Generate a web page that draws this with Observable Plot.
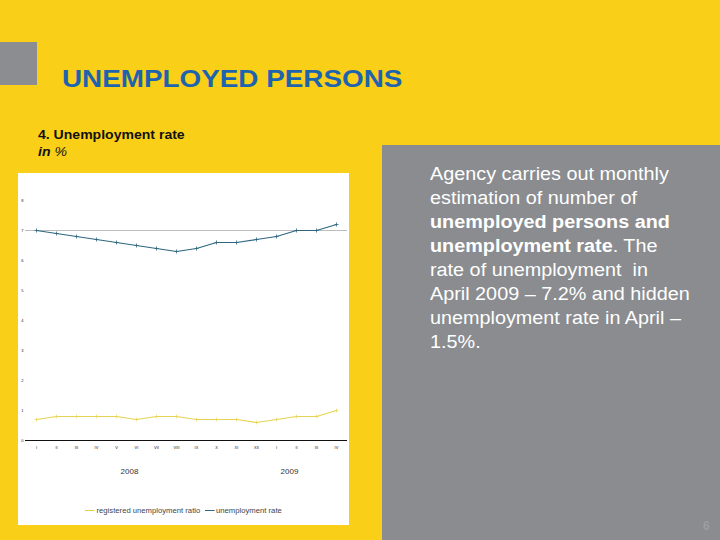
<!DOCTYPE html>
<html>
<head>
<meta charset="utf-8">
<script src="https://cdn.jsdelivr.net/npm/d3@7"></script>
<script src="https://cdn.jsdelivr.net/npm/@observablehq/plot@0.6"></script>
<style>
  html, body { margin: 0; padding: 0; }
  body { width: 720px; height: 540px; background: #F9CF18; position: relative; overflow: hidden; font-family: "Liberation Sans", Arial, sans-serif; }
  .abs { position: absolute; }
  #sq { left: 0; top: 42px; width: 37px; height: 43px; background: #8B8D90; }
  #panel { left: 382px; top: 145px; width: 338px; height: 395px; background: #8A8C8F; }
  #title { left: 62px; top: 64px; font-size: 24px; font-weight: bold; color: #1E63AE; transform: scaleX(1.16); transform-origin: left top; white-space: nowrap; line-height: 30px; }
  #sub1 { left: 38px; top: 127px; font-size: 13px; font-weight: bold; color: #111; transform: scaleX(1.08); transform-origin: left top; white-space: nowrap; line-height: 16px; }
  #sub2 { left: 38px; top: 144px; font-size: 13px; color: #111; transform: scaleX(1.08); transform-origin: left top; white-space: nowrap; line-height: 16px; }
  #box { left: 18px; top: 173px; width: 331px; height: 352px; background: #fff; }
  #chart { left: 18px; top: 173px; }
  #legend { left: 85px; top: 505px; font-size: 8px; color: #444; white-space: nowrap; line-height: 12px; transform: scaleX(0.96); transform-origin: left top; }
  .sw { display: inline-block; width: 10px; height: 0; border-top: 1.3px solid; vertical-align: middle; margin-right: 2px; }
  #text { left: 430px; top: 162px; color: #fff; font-size: 18px; line-height: 24px; transform: scaleX(1.1); transform-origin: left top; white-space: nowrap; }
  #pg { left: 703px; top: 519px; color: #9C9EA1; font-size: 12px; font-weight: bold; }
</style>
</head>
<body>
<div id="sq" class="abs"></div>
<div id="panel" class="abs"></div>
<div id="title" class="abs">UNEMPLOYED PERSONS</div>
<div id="sub1" class="abs">4. Unemployment rate</div>
<div id="sub2" class="abs"><b><i>in</i></b> <i>%</i></div>
<div id="box" class="abs"></div>
<div id="chart" class="abs"></div>
<div id="legend" class="abs"><span class="sw" style="border-color:#E3CF45"></span>registered unemployment ratio&nbsp;&nbsp;<span class="sw" style="border-color:#2F6680"></span>unemployment rate</div>
<div id="text" class="abs">
<div>Agency carries out monthly</div>
<div>estimation of number of</div>
<div><b>unemployed persons and</b></div>
<div><b>unemployment rate</b>. The</div>
<div>rate of unemployment&nbsp; in</div>
<div>April 2009 – 7.2% and hidden</div>
<div>unemployment rate in April –</div>
<div>1.5%.</div>
</div>
<div id="pg" class="abs">6</div>
<script>
const periods = ["2008-01","2008-02","2008-03","2008-04","2008-05","2008-06","2008-07","2008-08","2008-09","2008-10","2008-11","2008-12","2009-01","2009-02","2009-03","2009-04"];
const monthLabels = ["I","II","III","IV","V","VI","VII","VIII","IX","X","XI","XII","I","II","III","IV"];
const unemploymentRate = [7.0,6.9,6.8,6.7,6.6,6.5,6.4,6.3,6.4,6.6,6.6,6.7,6.8,7.0,7.0,7.2];
const registeredRatio = [0.7,0.8,0.8,0.8,0.8,0.7,0.8,0.8,0.7,0.7,0.7,0.6,0.7,0.8,0.8,1.0];
const yearLabels = ["2008","2009"];
const yearAt = ["2008-06","2009-02"];
const referenceLevel = [7];
const yTicks = [0,1,2,3,4,5,6,7,8];

const rows = periods.map((p, i) => ({period: p, month: monthLabels[i], rate: unemploymentRate[i], reg: registeredRatio[i]}));
const years = yearLabels.map((y, i) => ({period: yearAt[i], label: y}));
const fmt = new Map(periods.map((p, i) => [p, monthLabels[i]]));

const chart = Plot.plot({
  width: 331,
  height: 327,
  marginLeft: 7,
  marginRight: 2,
  marginTop: 0,
  marginBottom: 60,
  style: {background: "transparent", fontFamily: "Liberation Sans, Arial, sans-serif", overflow: "visible"},
  x: {type: "point", domain: periods, padding: 0.5},
  y: {domain: [0, 8.9]},
  marks: [
    Plot.axisY({ticks: yTicks, tickSize: 0, tickPadding: 2, fontSize: 4, label: null, color: "#222"}),
    Plot.axisX({tickSize: 0, tickPadding: 6, fontSize: 4, label: null, tickFormat: d => fmt.get(d), color: "#222"}),
    Plot.ruleY(referenceLevel, {stroke: "#BDBDBD", strokeWidth: 1}),
    Plot.ruleY([0], {stroke: "#111", strokeWidth: 1.2}),
    Plot.line(rows, {x: "period", y: "reg", stroke: "#E6D454", strokeWidth: 1.1}),
    Plot.dot(rows, {x: "period", y: "reg", symbol: "plus", r: 1.3, stroke: "#E6D454", strokeWidth: 0.7}),
    Plot.line(rows, {x: "period", y: "rate", stroke: "#2F6680", strokeWidth: 1.2}),
    Plot.dot(rows, {x: "period", y: "rate", symbol: "plus", r: 1.4, stroke: "#2F6680", strokeWidth: 0.8}),
    Plot.text(years, {x: "period", y: 0, text: "label", dy: 31, dx: -7, fontSize: 8, fill: "#333"})
  ]
});
document.getElementById("chart").appendChild(chart);
</script>
</body>
</html>
